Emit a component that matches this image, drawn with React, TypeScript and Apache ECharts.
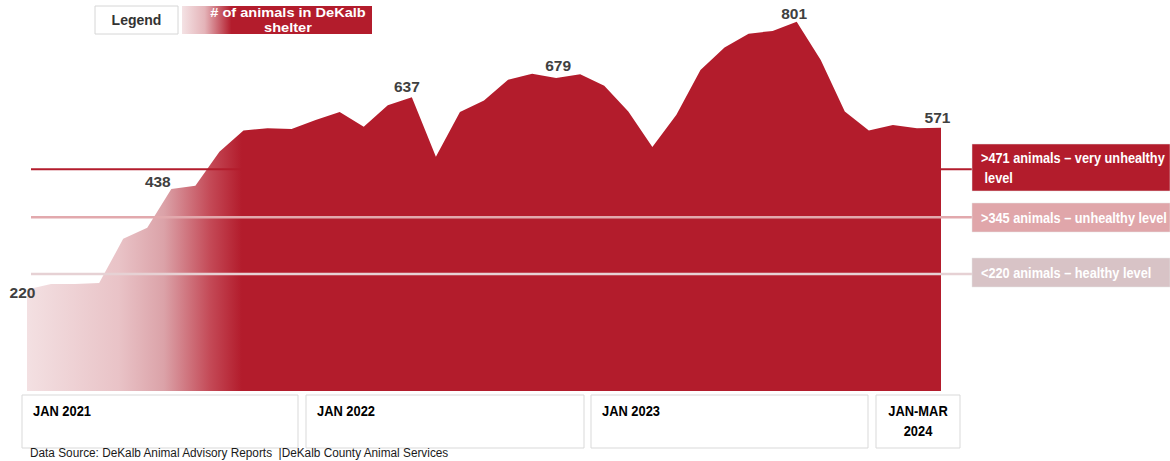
import React, { useEffect, useRef } from "react";
import * as echarts from "echarts";

// Monthly count of animals in DeKalb shelter, Jan 2021 – Mar 2024
const months: string[] = [
  "Jan 2021", "Feb 2021", "Mar 2021", "Apr 2021", "May 2021", "Jun 2021", "Jul 2021", "Aug 2021", "Sep 2021", "Oct 2021", "Nov 2021", "Dec 2021",
  "Jan 2022", "Feb 2022", "Mar 2022", "Apr 2022", "May 2022", "Jun 2022", "Jul 2022", "Aug 2022", "Sep 2022", "Oct 2022", "Nov 2022", "Dec 2022",
  "Jan 2023", "Feb 2023", "Mar 2023", "Apr 2023", "May 2023", "Jun 2023", "Jul 2023", "Aug 2023", "Sep 2023", "Oct 2023", "Nov 2023", "Dec 2023",
  "Jan 2024", "Feb 2024", "Mar 2024",
];
const animals: number[] = [
  220, 232, 232, 234, 330, 354, 438, 445, 519, 565, 570, 568,
  588, 605, 573, 620, 637, 508, 605, 630, 675, 688, 679, 687,
  662, 606, 529, 599, 696, 745, 775, 781, 801, 718, 606, 565,
  577, 570, 571,
];
// indices of the points that carry a value label
const labelledIdx: number[] = [0, 6, 16, 22, 32, 38];

// threshold annotations (text) and the levels at which their lines are drawn in the picture
const thresholdTexts: string[] = [
  ">471 animals – very unhealthy\n level",
  ">345 animals – unhealthy level",
  "<220 animals – healthy level",
];
const thresholdLineLevels: number[] = [481, 377, 254];

const periodLabels: string[] = ["JAN 2021", "JAN 2022", "JAN 2023", "JAN-MAR\n2024"];
const legendTitle = "Legend";
const seriesName = "# of animals in DeKalb\nshelter";
const sourceNote = "Data Source: DeKalb Animal Advisory Reports  |DeKalb County Animal Services";

const RED = "#b31c2c";
const ARIAL = '"Liberation Sans", Arial, Helvetica, sans-serif';

const labelOffsets: Record<number, number[]> = {
  0: [-4.5, 16],
  6: [-13.5, 6],
  16: [-5, 3],
  22: [2, 1.5],
  32: [-2.6, 5.5],
  38: [-3.5, 3],
};

export default function App() {
  const ref = useRef<HTMLDivElement>(null);
  useEffect(() => {
    if (!ref.current) return;
    const chart = echarts.init(ref.current, null, { renderer: "svg" });

    const data = animals.map((v, i) => {
      if (labelledIdx.includes(i)) {
        return {
          value: v,
          label: {
            show: true,
            position: "top",
            offset: labelOffsets[i] || [0, 0],
            formatter: String(v),
            color: "#404040",
            fontFamily: ARIAL,
            fontWeight: "bold",
            fontSize: 15.5,
          },
        };
      }
      return { value: v };
    });

    const fill = new echarts.graphic.LinearGradient(0, 0, 1, 0, [
      { offset: 0, color: "#f3e0e2" },
      { offset: 0.1, color: "#e9c3c7" },
      { offset: 0.15, color: "#dba2a8" },
      { offset: 0.2, color: "#c44a57" },
      { offset: 0.235, color: RED },
      { offset: 1, color: RED },
    ]);

    chart.setOption({
      animation: false,
      backgroundColor: "#ffffff",
      grid: { left: 27, right: 229, top: 0, bottom: 70 },
      xAxis: {
        type: "category",
        data: months,
        boundaryGap: false,
        show: false,
      },
      yAxis: {
        type: "value",
        min: 0,
        max: 848,
        show: false,
        splitLine: { show: false },
      },
      series: [
        {
          type: "line",
          name: "animals",
          data,
          symbol: "circle",
          symbolSize: 1,
          showAllSymbol: true,
          itemStyle: { color: "rgba(0,0,0,0)" },
          lineStyle: { width: 0 },
          areaStyle: { color: fill, opacity: 1 },
          z: 2,
        },
      ],
    });

    const lineColors = [RED, "#e2a9ad", "#e6d1d4"];
    const lineWidths = [2, 2.5, 2.5];
    const boxColors = [RED, "#e0a6aa", "#d8c3c6"];
    const boxTops = [144, 203, 258];
    const boxHeights = [47, 29, 29];

    const graphics: any[] = [];
    thresholdLineLevels.forEach((lv, i) => {
      const y = chart.convertToPixel({ yAxisIndex: 0 }, lv) as number;
      graphics.push({
        type: "line",
        shape: { x1: 31, y1: y, x2: 972, y2: y },
        style: { stroke: lineColors[i], lineWidth: lineWidths[i] },
        z: 10,
      });
    });
    thresholdTexts.forEach((t, i) => {
      graphics.push({
        type: "rect",
        shape: { x: 972, y: boxTops[i], width: 198, height: boxHeights[i] },
        style: { fill: boxColors[i], stroke: "#e4e4e4", lineWidth: 0.5 },
        z: 11,
      });
      graphics.push({
        type: "text",
        x: 981,
        y: boxTops[i] + boxHeights[i] / 2,
        scaleX: 0.85,
        style: {
          text: t,
          fill: "#ffffff",
          font: `bold 15px ${ARIAL}`,
          verticalAlign: "middle",
          align: "left",
          lineHeight: 20,
        },
        z: 12,
      });
    });

    // legend
    graphics.push({
      type: "rect",
      shape: { x: 95, y: 6, width: 83, height: 28 },
      style: { fill: "#ffffff", stroke: "#d6d6d6", lineWidth: 1 },
      z: 11,
    });
    graphics.push({
      type: "text",
      x: 136.5,
      y: 20,
      style: {
        text: legendTitle,
        fill: "#333333",
        font: `bold 14px ${ARIAL}`,
        align: "center",
        verticalAlign: "middle",
      },
      z: 12,
    });
    graphics.push({
      type: "rect",
      shape: { x: 182, y: 6, width: 190, height: 28 },
      style: {
        fill: new echarts.graphic.LinearGradient(0, 0, 1, 0, [
          { offset: 0, color: "#f4e2e4" },
          { offset: 0.12, color: "#e4b3b8" },
          { offset: 0.26, color: RED },
          { offset: 1, color: RED },
        ]),
      },
      z: 11,
    });
    graphics.push({
      type: "text",
      x: 288,
      y: 20,
      scaleX: 1.08,
      style: {
        text: seriesName,
        fill: "#ffffff",
        font: `bold 13.5px ${ARIAL}`,
        align: "center",
        verticalAlign: "middle",
        lineHeight: 15,
      },
      z: 12,
    });

    // period boxes
    const periodBoxes = [
      [22, 276],
      [306, 278],
      [591, 277],
      [876, 84],
    ];
    periodLabels.forEach((p, i) => {
      const [bx, bw] = periodBoxes[i];
      graphics.push({
        type: "rect",
        shape: { x: bx, y: 395, width: bw, height: 53 },
        style: { fill: "#ffffff", stroke: "#d9d9d9", lineWidth: 1 },
        z: 11,
      });
      const last = i === periodLabels.length - 1;
      graphics.push({
        type: "text",
        x: last ? bx + bw / 2 : bx + 11,
        y: last ? 421 : 411,
        scaleX: 0.86,
        style: {
          text: p,
          fill: "#000000",
          font: `bold 15px ${ARIAL}`,
          align: last ? "center" : "left",
          verticalAlign: "middle",
          lineHeight: 20,
        },
        z: 12,
      });
    });

    graphics.push({
      type: "text",
      x: 30,
      y: 453,
      scaleX: 0.875,
      style: {
        text: sourceNote,
        fill: "#1a1a1a",
        font: `13.5px ${ARIAL}`,
        align: "left",
        verticalAlign: "middle",
      },
      z: 12,
    });

    chart.setOption({ graphic: graphics });

    return () => chart.dispose();
  }, []);

  return (
    <div
      ref={ref}
      style={{ position: "fixed", left: 0, top: 0, width: 1170, height: 461, background: "#fff" }}
    />
  );
}
